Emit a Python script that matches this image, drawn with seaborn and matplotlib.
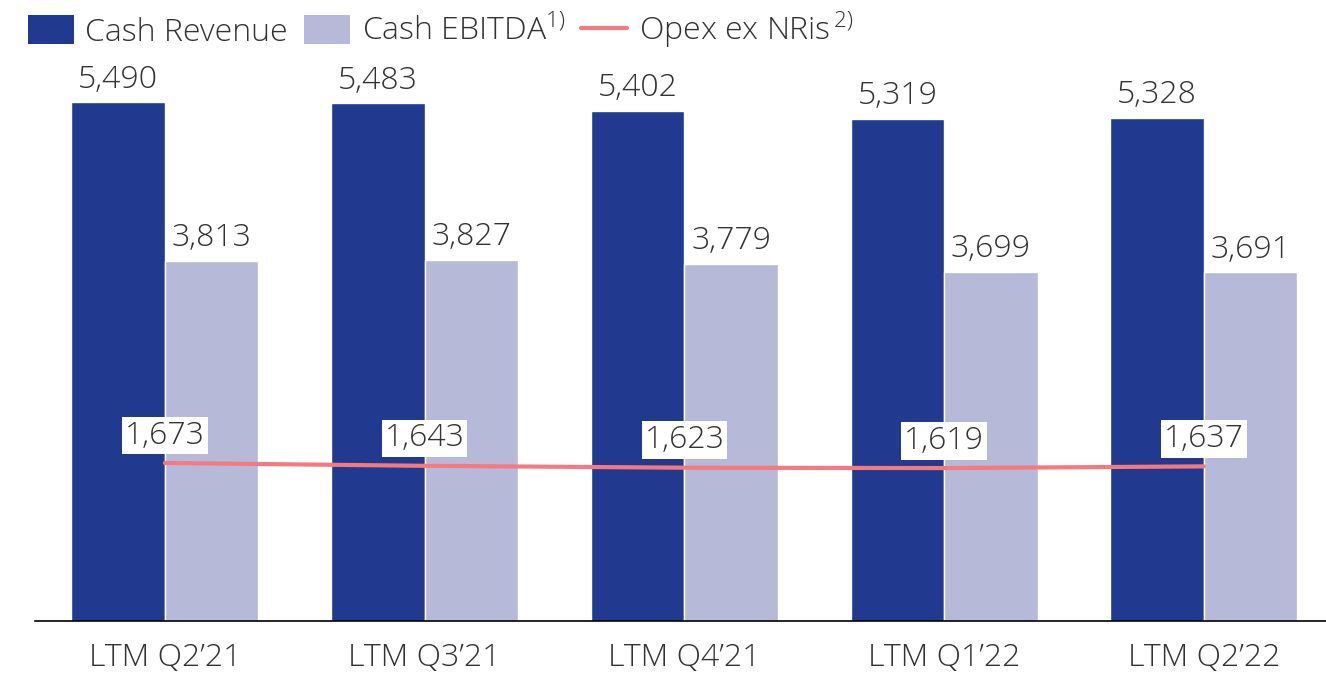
import numpy as np
import pandas as pd
import matplotlib
matplotlib.use("Agg")
import matplotlib.pyplot as plt
import seaborn as sns
from matplotlib.patches import Patch
from matplotlib.lines import Line2D

periods = ["LTM Q2\u201921", "LTM Q3\u201921", "LTM Q4\u201921", "LTM Q1\u201922", "LTM Q2\u201922"]
cash_revenue = [5490, 5483, 5402, 5319, 5328]
cash_ebitda = [3813, 3827, 3779, 3699, 3691]
opex_ex_nris = [1673, 1643, 1623, 1619, 1637]

c_rev = "#213a8f"
c_ebitda = "#b6bad8"
c_opex = "#f47a80"
c_text = "#333333"
fs = 23

sns.set_theme(style="white")
plt.rcParams['font.family'] = ['Open Sans', 'DejaVu Sans']
plt.rcParams['font.weight'] = 'light'
plt.rcParams['mathtext.fontset'] = 'custom'
plt.rcParams['mathtext.rm'] = 'Open Sans:light'

df = pd.DataFrame({
    'period': periods * 2,
    'value': cash_revenue + cash_ebitda,
    'series': ['Cash Revenue'] * 5 + ['Cash EBITDA'] * 5,
})

fig = plt.figure(figsize=(13.26, 6.73), dpi=100)
ax = fig.add_axes([0.0264, 0.0773, 0.9736, 0.834])

sns.barplot(data=df, x='period', y='value', hue='series', order=periods,
            palette=[c_rev, c_ebitda], width=0.72, saturation=1,
            legend=False, ax=ax)
sns.lineplot(x=np.arange(len(periods)), y=opex_ex_nris, color=c_opex,
             linewidth=3, ax=ax)

bw = 0.36
for i in range(len(periods)):
    ax.text(i - bw / 2, cash_revenue[i] + 70, f"{cash_revenue[i]:,}",
            ha='center', va='bottom', fontsize=fs, color=c_text)
    ax.text(i + bw / 2, cash_ebitda[i] + 70, f"{cash_ebitda[i]:,}",
            ha='center', va='bottom', fontsize=fs, color=c_text)
    ax.text(i, opex_ex_nris[i] + 290, f"{opex_ex_nris[i]:,}",
            ha='center', va='center', fontsize=fs, color=c_text,
            bbox=dict(facecolor='white', edgecolor='none', pad=2))

ax.set_xlim(-0.5, 4.47)
ax.set_ylim(0, 5943)
ax.set_yticks([])
ax.set_xlabel('')
ax.set_ylabel('')
for s in ['top', 'right', 'left']:
    ax.spines[s].set_visible(False)
ax.spines['bottom'].set_color('black')
ax.spines['bottom'].set_linewidth(1.2)
ax.tick_params(axis='x', labelsize=fs, colors=c_text, length=0, pad=15)

handles = [
    Patch(facecolor=c_rev, edgecolor='none'),
    Patch(facecolor=c_ebitda, edgecolor='none'),
    Line2D([0], [0], color=c_opex, linewidth=3),
]
labels = ['Cash Revenue', 'Cash EBITDA$^{1)}$', 'Opex ex NRis$^{\\,2)}$']
leg = fig.legend(handles, labels, loc='upper left', bbox_to_anchor=(0.0211, 0.985),
                 ncol=3, frameon=False, fontsize=fs, handlelength=1.45,
                 handleheight=1.0, handletextpad=0.35, columnspacing=0.5,
                 borderpad=0, borderaxespad=0, labelcolor=c_text)

fig.savefig('out.png', dpi=100)
